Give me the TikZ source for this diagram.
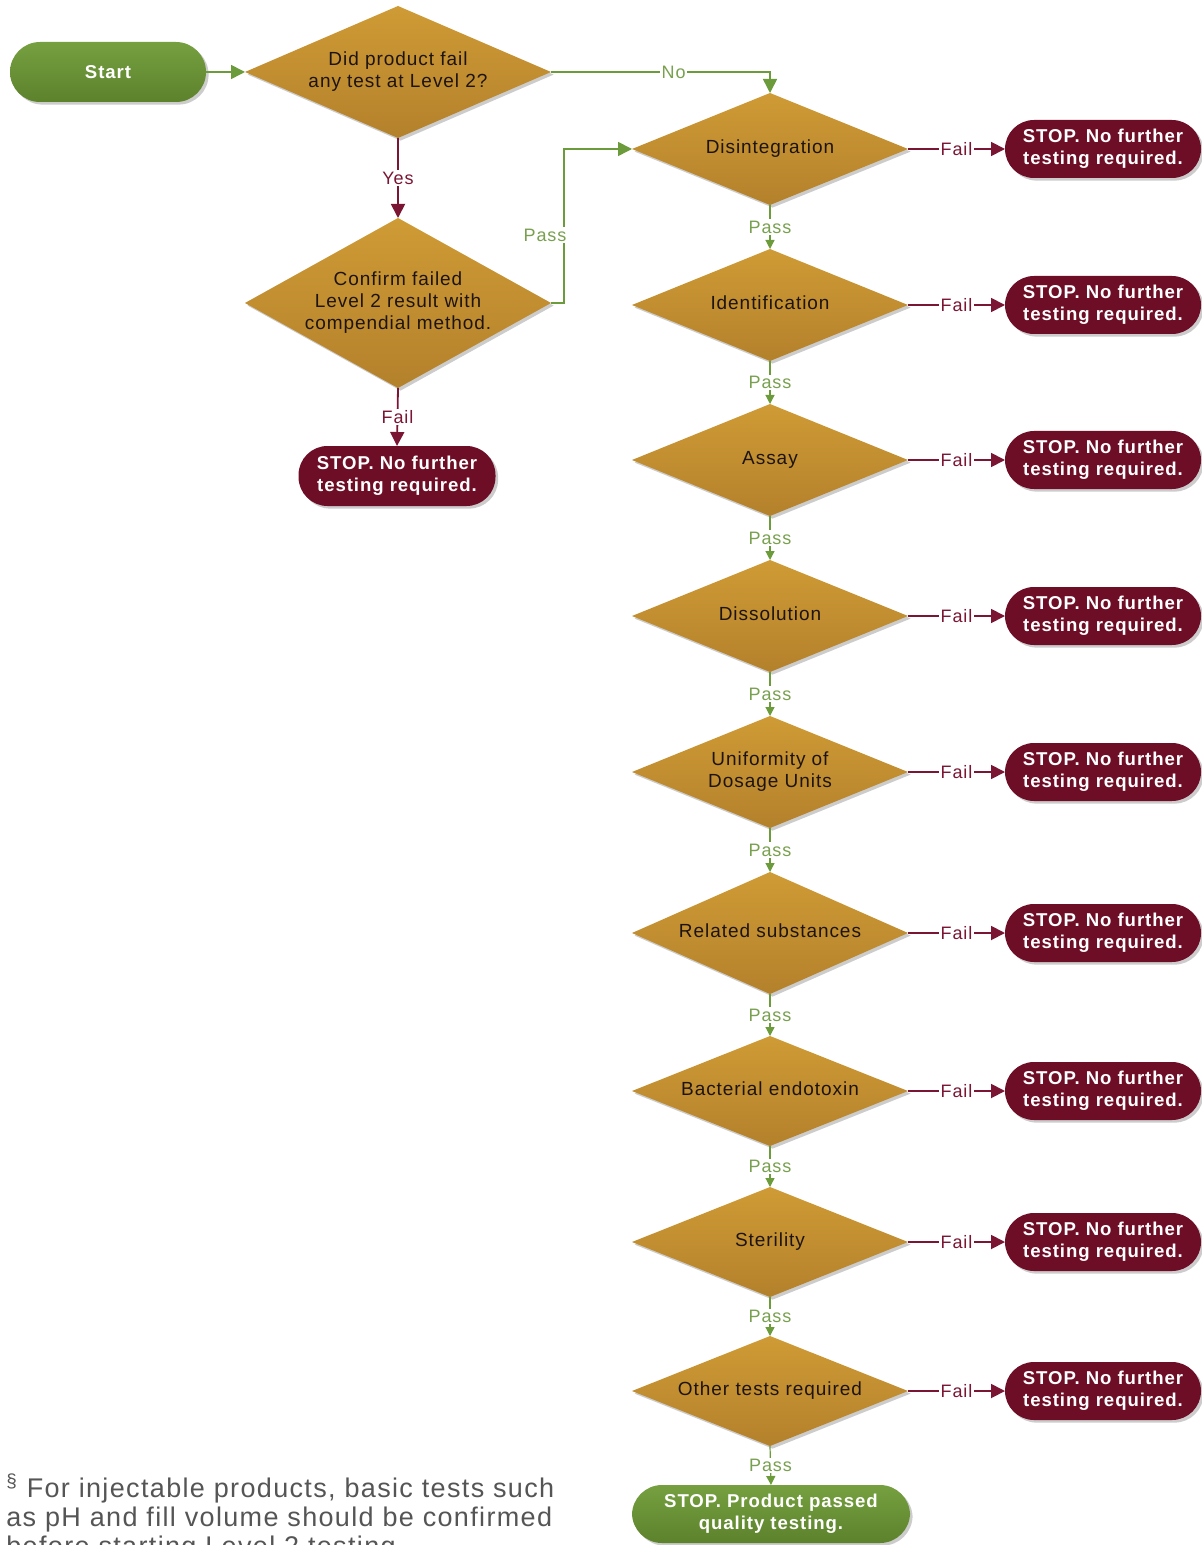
\documentclass[tikz,border=0pt]{standalone}
\usepackage{fontspec}
\setmainfont{Liberation Sans}
\newfontfamily\lsans[LetterSpace=5]{Liberation Sans}
\usetikzlibrary{shapes.geometric,arrows.meta,shadows}
\definecolor{goldT}{RGB}{207,155,53}
\definecolor{goldB}{RGB}{180,129,44}
\definecolor{stopred}{RGB}{110,14,38}
\definecolor{grnT}{RGB}{118,160,64}
\definecolor{grnB}{RGB}{92,130,44}
\definecolor{gline}{RGB}{107,155,58}
\definecolor{rline}{RGB}{122,22,52}
\definecolor{passtxt}{RGB}{120,160,78}
\definecolor{dtxt}{RGB}{30,20,15}
\definecolor{foottxt}{RGB}{85,85,85}
\newcommand{\zw}[1]{\makebox[0pt]{\raisebox{-1pt}{\begin{tabular}{@{}c@{}}#1\end{tabular}}}}
\tikzset{
  shd/.style={drop shadow={shadow xshift=1.3pt,shadow yshift=-1.3pt,opacity=.2,fill=black}},
  dec/.style={diamond, minimum width=138pt, minimum height=56pt, inner sep=0pt, outer sep=0pt,
    top color=goldT, bottom color=goldB, draw=none, text=dtxt, shd,
    font=\lsans\fontsize{9.5}{11}\selectfont},
  redstop/.style={rectangle, rounded corners=14.5pt, minimum width=98pt, minimum height=29pt,
    inner sep=0pt, outer sep=0pt, fill=stopred, text=white, align=center, shd,
    font=\lsans\bfseries\fontsize{9.3}{11}\selectfont},
  grnnode/.style={rectangle, rounded corners=15pt, minimum height=30pt,
    inner sep=0pt, outer sep=0pt, top color=grnT, bottom color=grnB, draw=none, text=white, align=center, shd,
    font=\lsans\bfseries\fontsize{9.3}{11}\selectfont},
  gconn/.style={draw=gline, line width=0.6pt, -{Triangle[length=4.5pt,width=4.5pt]}},
  gbig/.style={draw=gline, line width=0.8pt, -{Triangle[length=7pt,width=7pt]}},
  rconn/.style={draw=rline, line width=0.9pt, -{Triangle[length=7pt,width=7pt]}},
  passlbl/.style={fill=white, inner sep=0.8pt, text=passtxt, font=\lsans\fontsize{9}{10}\selectfont},
  faillbl/.style={fill=white, inner sep=0.8pt, text=rline, font=\lsans\fontsize{9}{10}\selectfont},
}
\begin{document}
\begin{tikzpicture}[x=0.5pt,y=-0.5pt]
\useasboundingbox (0,0) rectangle (1202,1545);
% left part
\node[grnnode, minimum width=98pt] (start) at (108,72) {Start};
\node[dec, minimum width=153pt, minimum height=66pt] (q1) at (398,72) {\zw{Did product fail\\any test at Level 2?}};
\node[dec, minimum width=153pt, minimum height=85pt] (conf) at (398,303) {\zw{Confirm failed\\Level 2 result with\\compendial method.}};
\node[redstop, minimum width=98.5pt, minimum height=30pt] (s0) at (397,476) {STOP. No further\\testing required.};
% main column
\node[dec] (d1) at (770,149) {\zw{Disintegration}};
\node[dec] (d2) at (770,305) {\zw{Identification}};
\node[dec] (d3) at (770,460) {\zw{Assay}};
\node[dec] (d4) at (770,616) {\zw{Dissolution}};
\node[dec] (d5) at (770,772) {\zw{Uniformity of\\Dosage Units}};
\node[dec, minimum height=61pt] (d6) at (770,933) {\zw{Related substances}};
\node[dec, minimum height=55pt] (d7) at (770,1091) {\zw{Bacterial endotoxin}};
\node[dec, minimum height=55pt] (d8) at (770,1242) {\zw{Sterility}};
\node[dec, minimum height=55pt] (d9) at (770,1391) {\zw{Other tests required}};
\node[grnnode, minimum width=139pt, minimum height=29pt] (done) at (771,1514) {STOP. Product passed\\quality testing.};
% stop nodes on right
\foreach \i/\y in {1/149,2/305,3/460,4/616,5/772,6/933,7/1091,8/1242,9/1391}{
  \node[redstop] (s\i) at (1103,\y) {STOP. No further\\testing required.};
  \draw[rconn] (d\i.east) -- node[faillbl]{Fail} (s\i.west);
}
% pass chain
\foreach \a/\b in {d1/d2,d2/d3,d3/d4,d4/d5,d5/d6,d6/d7,d7/d8,d8/d9,d9/done}{
  \draw[gconn] (\a.south) -- node[passlbl]{Pass} (\b.north);
}
% left connectors
\draw[gbig] (start.east) -- (q1.west);
\draw[gbig] (q1.east) -| node[passlbl, pos=0.28]{No} (d1.north);
\draw[rconn] (q1.south) -- node[faillbl]{Yes} (conf.north);
\draw[gbig] (conf.east) -- ++(13,0) |- (d1.west);
\node[passlbl] (passlbl0) at (545,235) {Pass};
\draw[rconn] (conf.south) -- node[faillbl]{Fail} (s0.north);
% footnote
\node[anchor=north west, align=left, inner sep=0pt, text=foottxt,
  font=\lsans\fontsize{13.5}{14.5}\selectfont] (foot) at (6,1473)
  {\textsuperscript{§} For injectable products, basic tests such\\as pH and fill volume should be confirmed\\before starting Level 2 testing.};
\end{tikzpicture}
\end{document}
